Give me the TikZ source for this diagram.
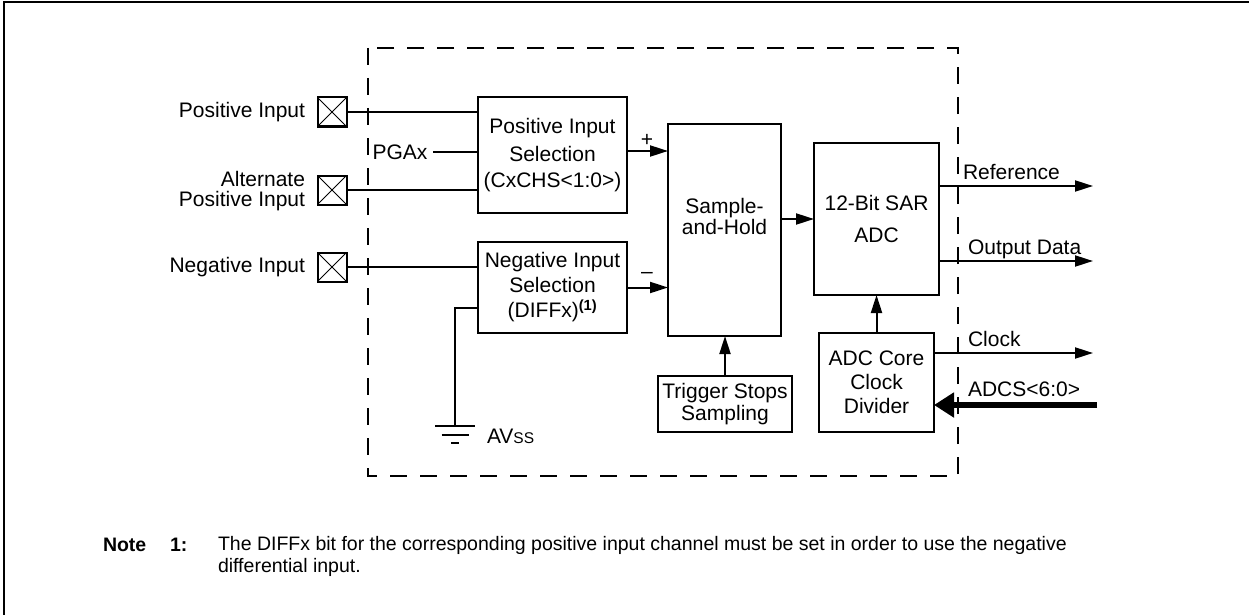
\documentclass[tikz,border=0pt]{standalone}
\usepackage{fontspec}
\setmainfont{Liberation Sans}
\usetikzlibrary{arrows.meta}
\begin{document}
\begin{tikzpicture}[x=1pt,y=-1pt,
  lab/.style={font=\fontsize{21}{25}\selectfont, inner sep=0pt, outer sep=0pt},
  blk/.style={draw, line width=2pt, inner sep=0pt, outer sep=0pt, anchor=north west, align=center, font=\fontsize{21}{25}\selectfont},
  pad/.style={draw, line width=2pt, minimum size=29pt, inner sep=0pt, outer sep=0pt,
    path picture={\draw[line width=0.9pt] (path picture bounding box.north west) -- (path picture bounding box.south east)
      (path picture bounding box.north east) -- (path picture bounding box.south west);}},
  wire/.style={line width=2pt},
  arr/.style={line width=2pt, -{Triangle[length=18pt,width=11pt]}},
  thickarr/.style={line width=6pt, -{Triangle[length=20pt,width=24pt]}},
  dashbox/.style={line width=2pt, dash pattern=on 17pt off 13pt},
  notef/.style={font=\fontsize{19.5}{21.5}\selectfont, inner sep=0pt, outer sep=0pt}
]
\useasboundingbox (0,0) rectangle (1249,615);
\clip (0,0) rectangle (1249,615);
% outer frame (cropped)
\draw[line width=2pt] (4,700) -- (4,2) -- (1300,2);
% dashed boundary
\draw[dashbox] (368,48) rectangle (958,476);

% pads and labels
\node[pad] (pp) at (332,112) {};
\node[pad] (pa) at (332,190) {};
\node[pad] (pn) at (332,267) {};
\node[lab, anchor=east] (lpp) at (305,112) {Positive Input};
\node[lab, anchor=east, align=right, font=\fontsize{21}{20}\selectfont] (lpa) at (305,191) {Alternate\\Positive Input};
\node[lab, anchor=east] (lpn) at (305,267) {Negative Input};
\node[lab] (pgax) at (400,152) {PGAx};

% blocks
\node[blk, minimum width=149pt, minimum height=116pt] (pos) at (478,97) {Positive Input\\[3pt]Selection\\[1pt](CxCHS<1:0>)};
\node[blk, minimum width=149pt, minimum height=91pt] (neg) at (478,242) {Negative Input\\Selection\\(DIFFx)\textsuperscript{\textbf{(1)}}};
\node[blk, minimum width=113pt, minimum height=212pt] (sh) at (668,124) {};
\node[lab, align=center, font=\fontsize{21}{21}\selectfont] (shtext) at (724.5,216) {Sample-\\and-Hold};
\node[blk, minimum width=134pt, minimum height=56pt, font=\fontsize{21}{22}\selectfont] (trig) at (658,376) {Trigger Stops\\Sampling};
\node[blk, minimum width=125pt, minimum height=152pt] (adc) at (814,143) {12-Bit SAR\\[7pt]ADC};
\node[blk, minimum width=115pt, minimum height=99pt, font=\fontsize{21}{24}\selectfont] (div) at (819,333) {ADC Core\\Clock\\Divider};

% input wires
\draw[wire] (pp.east) -- (pp.east -| pos.west);
\draw[wire] (pa.east) -- (pa.east -| pos.west);
\draw[wire] (pn.east) -- (pn.east -| neg.west);
\draw[wire] ([xshift=6pt]pgax.east) -- (pgax.east -| pos.west);

% ground
\coordinate (gnd) at (455,426);
\draw[wire] ([yshift=-20.5pt]neg.west) -| (gnd);
\draw[wire] ([xshift=-20pt]gnd) -- ([xshift=20pt]gnd);
\draw[wire] ([xshift=-13.5pt,yshift=-9pt]gnd) -- ([xshift=13.5pt,yshift=-9pt]gnd);
\draw[wire] ([xshift=-4pt,yshift=-17pt]gnd) -- ([xshift=4pt,yshift=-17pt]gnd);
\node[lab, anchor=west] (avss) at (487,436) {AV{\fontsize{15.5}{15.5}\selectfont SS}};

% into sample and hold
\draw[arr] ([yshift=4pt]pos.east) -- ([yshift=4pt]pos.east -| sh.west);
\node[lab] (plus) at (647,140) {+};
\draw[arr] (neg.east) -- (neg.east -| sh.west);
\node[lab] (minus) at (647,275) {\textendash};
\draw[arr] (trig.north) -- (trig.north |- sh.south);
\draw[arr] (sh.east |- adc.west) -- (adc.west);
\draw[arr] (div.north) -- (div.north |- adc.south);

% outputs
\coordinate (oref) at (1093,186);
\coordinate (odat) at (1093,261);
\coordinate (oclk) at (1093,353);
\coordinate (iadcs) at (1097,405);
\draw[arr] (adc.east |- oref) -- (oref);
\draw[arr] (adc.east |- odat) -- (odat);
\draw[arr] (div.east |- oclk) -- (oclk);
\draw[thickarr] (iadcs) -- (iadcs -| div.east);
\node[lab, anchor=base west] (lref) at (963,179) {Reference};
\node[lab, anchor=base west] (ldat) at (968,254) {Output Data};
\node[lab, anchor=base west] (lclk) at (968,346) {Clock};
\node[lab, anchor=base west] (ladcs) at (968,396) {ADCS<6:0>};

% note
\node[notef, anchor=base west] (note) at (103,551) {\textbf{Note}};
\node[notef, anchor=base west] (noten) at (170,551) {\textbf{1:}};
\node[notef, anchor=north west, align=left] (notet) at (218,536.5) {The DIFFx bit for the corresponding positive input channel must be set in order to use the negative\\differential input.};
\end{tikzpicture}
\end{document}
